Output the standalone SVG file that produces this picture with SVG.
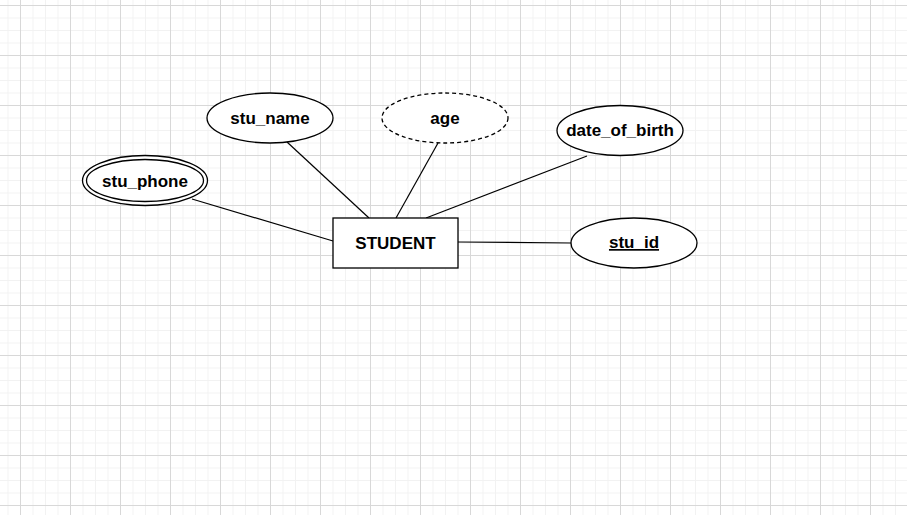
<svg xmlns="http://www.w3.org/2000/svg" width="907" height="515" viewBox="0 0 907 515">
<defs>
<pattern id="minor" width="12.5" height="12.5" patternUnits="userSpaceOnUse" x="7.5" y="5">
<path d="M0 0.5H12.5M0.5 0V12.5" fill="none" stroke="#f2f2f2" stroke-width="1"/>
</pattern>
<pattern id="major" width="50" height="50" patternUnits="userSpaceOnUse" x="20" y="5">
<path d="M0 0.5H50M0.5 0V50" fill="none" stroke="#d8d8d8" stroke-width="1"/>
</pattern>
<style>
.shape{fill:#fff;stroke:#000;stroke-width:1.3}
.dash{stroke-dasharray:4 3}
.lbl{font-family:"Liberation Sans",Arial,sans-serif;font-weight:bold;font-size:17px;text-anchor:middle;fill:#000}
.conn line{stroke:#000;stroke-width:1.2}
</style>
</defs>
<rect width="907" height="515" fill="#fff"/>
<rect width="907" height="515" fill="url(#minor)"/>
<rect width="907" height="515" fill="url(#major)"/>
<g id="connectors" class="conn">
<line x1="192" y1="199" x2="333" y2="241"/>
<line x1="287" y1="142" x2="369" y2="218"/>
<line x1="438" y1="143" x2="396" y2="218"/>
<line x1="587" y1="156" x2="426" y2="218"/>
<line x1="458" y1="242" x2="571" y2="243"/>
</g>
<g id="student">
<rect class="shape" x="333" y="218" width="125" height="50"/>
<text class="lbl" x="395.5" y="249">STUDENT</text>
</g>
<g id="stu_name">
<ellipse class="shape" cx="270" cy="118" rx="63" ry="25"/>
<text class="lbl" x="270" y="124">stu_name</text>
</g>
<g id="age">
<ellipse class="shape dash" cx="445" cy="118" rx="63" ry="25"/>
<text class="lbl" x="445" y="124">age</text>
</g>
<g id="date_of_birth">
<ellipse class="shape" cx="620" cy="130.5" rx="63" ry="25"/>
<text class="lbl" x="620" y="136">date_of_birth</text>
</g>
<g id="stu_phone">
<ellipse class="shape" cx="145" cy="180.5" rx="62.5" ry="25"/>
<ellipse class="shape" cx="145" cy="180.5" rx="58.5" ry="21"/>
<text class="lbl" x="145" y="186.5">stu_phone</text>
</g>
<g id="stu_id">
<ellipse class="shape" cx="634" cy="243" rx="63" ry="25"/>
<text class="lbl" x="634" y="248" text-decoration="underline">stu_id</text>
</g>
</svg>
